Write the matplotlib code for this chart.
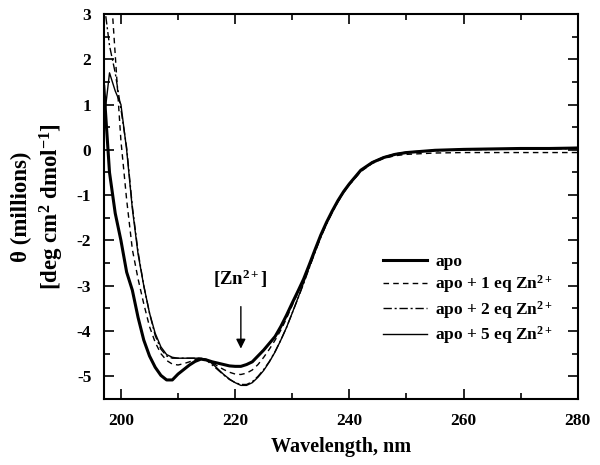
import matplotlib
matplotlib.use("Agg")
import matplotlib.pyplot as plt
from matplotlib.ticker import MultipleLocator

plt.rcParams['font.family'] = ['Liberation Serif', 'DejaVu Serif']
plt.rcParams['font.weight'] = 'bold'
plt.rcParams['mathtext.fontset'] = 'custom'
plt.rcParams['mathtext.rm'] = 'Liberation Serif:bold'
plt.rcParams['mathtext.bf'] = 'Liberation Serif:bold'
plt.rcParams['mathtext.it'] = 'Liberation Serif:bold:italic'
plt.rcParams['mathtext.default'] = 'rm'
plt.rcParams['axes.unicode_minus'] = False

# длины волн, нм
wavelength = [197, 198, 199, 200, 201, 202, 203, 204, 205, 206, 207, 208, 209,
              210, 211, 212, 213, 214, 215, 216, 217, 218, 219, 220, 221, 222,
              223, 224, 225, 226, 227, 228, 229, 230, 231, 232, 233, 234, 235,
              236, 237, 238, 239, 240, 242, 244, 246, 248, 250, 255, 260, 265,
              270, 275, 280]

# эллиптичность, миллионы
apo = [1.4, -0.5, -1.4, -2.0, -2.7, -3.1, -3.7, -4.2, -4.55, -4.8, -4.98, -5.08, -5.08,
       -4.95, -4.85, -4.75, -4.67, -4.62, -4.64, -4.68, -4.71, -4.74, -4.77, -4.78, -4.78, -4.74,
       -4.68, -4.55, -4.42, -4.27, -4.12, -3.9, -3.65, -3.38, -3.12, -2.85, -2.53, -2.2, -1.88,
       -1.6, -1.35, -1.12, -0.92, -0.75, -0.45, -0.28, -0.17, -0.1, -0.06, -0.01, 0.01, 0.02,
       0.03, 0.03, 0.04]

apo_1eq = [5.5, 4.0, 2.1, 0.2, -1.1, -2.2, -2.85, -3.4, -3.9, -4.25, -4.5, -4.65, -4.73,
           -4.75, -4.72, -4.68, -4.63, -4.6, -4.63, -4.7, -4.78, -4.85, -4.91, -4.95, -4.96, -4.93,
           -4.86, -4.74, -4.58, -4.4, -4.2, -3.98, -3.72, -3.43, -3.15, -2.86, -2.54, -2.22, -1.9,
           -1.62, -1.37, -1.14, -0.94, -0.77, -0.48, -0.3, -0.19, -0.13, -0.1, -0.07, -0.06, -0.06,
           -0.06, -0.06, -0.06]

apo_2eq = [3.3, 2.3, 1.7, 0.9, 0.05, -1.25, -2.25, -3.0, -3.6, -4.1, -4.4, -4.55, -4.6,
           -4.6, -4.6, -4.6, -4.6, -4.6, -4.65, -4.75, -4.86, -4.97, -5.07, -5.14, -5.18, -5.18,
           -5.12, -5.0, -4.85, -4.67, -4.45, -4.2, -3.92, -3.6, -3.28, -2.95, -2.6, -2.26, -1.93,
           -1.64, -1.38, -1.15, -0.94, -0.77, -0.47, -0.28, -0.17, -0.1, -0.06, -0.02, 0.0, 0.01,
           0.02, 0.02, 0.03]

apo_5eq = [0.6, 1.7, 1.3, 1.0, 0.0, -1.3, -2.3, -3.0, -3.6, -4.05, -4.35, -4.52, -4.58,
           -4.6, -4.6, -4.6, -4.6, -4.6, -4.63, -4.72, -4.84, -4.96, -5.06, -5.14, -5.2, -5.2,
           -5.14, -5.02, -4.87, -4.68, -4.46, -4.2, -3.92, -3.6, -3.27, -2.93, -2.58, -2.24, -1.91,
           -1.62, -1.36, -1.13, -0.92, -0.75, -0.46, -0.27, -0.16, -0.09, -0.05, -0.01, 0.01, 0.02,
           0.03, 0.04, 0.05]

labels = ['apo', 'apo + 1 eq Zn$^{2+}$', 'apo + 2 eq Zn$^{2+}$', 'apo + 5 eq Zn$^{2+}$']

fig = plt.figure(figsize=(6, 4.65), dpi=100)
ax = fig.add_axes([0.173, 0.142, 0.79, 0.828])

ax.plot(wavelength, apo, color='black', lw=2.2, label=labels[0])
ax.plot(wavelength, apo_1eq, color='black', lw=1.0, dashes=(4, 3), label=labels[1])
ax.plot(wavelength, apo_2eq, color='black', lw=1.0, dashes=(6, 2, 1.5, 2), label=labels[2])
ax.plot(wavelength, apo_5eq, color='black', lw=1.0, label=labels[3])

ax.set_xlim(197, 280)
ax.set_ylim(-5.5, 3)

# деления
ax.xaxis.set_major_locator(MultipleLocator(20))
ax.xaxis.set_minor_locator(MultipleLocator(10))
ax.yaxis.set_major_locator(MultipleLocator(1))
ax.yaxis.set_minor_locator(MultipleLocator(0.5))
ax.tick_params(which='both', direction='in', top=True, right=True, width=1.2)
ax.tick_params(which='major', length=7, labelsize=12.5)
ax.tick_params(axis='x', which='major', pad=10)
ax.tick_params(axis='y', which='major', pad=9)
ax.tick_params(which='minor', length=4)
for s in ax.spines.values():
    s.set_linewidth(1.5)

ax.set_xlabel('Wavelength, nm', fontsize=14.5, fontweight='bold', labelpad=6)
ax.set_ylabel('\u03b8 (millions)\n[deg cm$^{2}$ dmol$^{-1}$]', fontsize=16.5,
              fontweight='bold', labelpad=8, linespacing=1.25)

# стрелка и подпись
ax.annotate('', xy=(221, -4.45), xytext=(221, -3.4),
            arrowprops=dict(arrowstyle='-|>', color='black', lw=1.0, mutation_scale=14))
ax.text(221, -2.85, '[Zn$^{2+}$]', ha='center', va='center', fontsize=13.5, fontweight='bold')

ax.legend(loc='upper left', bbox_to_anchor=(0.575, 0.395), frameon=False,
          fontsize=12.5, handlelength=2.5, handletextpad=0.5, labelspacing=0.2,
          borderaxespad=0)

fig.savefig('out.png', dpi=100)
plt.close(fig)
